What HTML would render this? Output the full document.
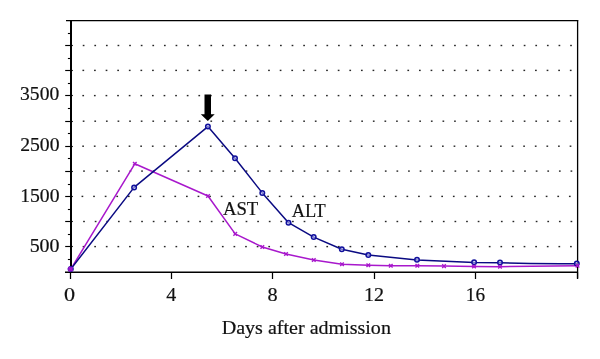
<!DOCTYPE html>
<html><head><meta charset="utf-8"><style>
html,body{margin:0;padding:0;background:#fff;}
svg{display:block;will-change:transform;}
</style></head><body>
<svg width="600" height="359" viewBox="0 0 600 359">
<g fill="#262626"><rect x="82.65" y="245.90" width="1.7" height="1.4"/><rect x="94.26" y="245.90" width="1.7" height="1.4"/><rect x="105.86" y="245.90" width="1.7" height="1.4"/><rect x="117.47" y="245.90" width="1.7" height="1.4"/><rect x="129.07" y="245.90" width="1.7" height="1.4"/><rect x="140.68" y="245.90" width="1.7" height="1.4"/><rect x="152.28" y="245.90" width="1.7" height="1.4"/><rect x="163.89" y="245.90" width="1.7" height="1.4"/><rect x="175.49" y="245.90" width="1.7" height="1.4"/><rect x="187.09" y="245.90" width="1.7" height="1.4"/><rect x="198.70" y="245.90" width="1.7" height="1.4"/><rect x="210.31" y="245.90" width="1.7" height="1.4"/><rect x="221.91" y="245.90" width="1.7" height="1.4"/><rect x="233.52" y="245.90" width="1.7" height="1.4"/><rect x="245.12" y="245.90" width="1.7" height="1.4"/><rect x="256.73" y="245.90" width="1.7" height="1.4"/><rect x="268.33" y="245.90" width="1.7" height="1.4"/><rect x="279.93" y="245.90" width="1.7" height="1.4"/><rect x="291.54" y="245.90" width="1.7" height="1.4"/><rect x="303.14" y="245.90" width="1.7" height="1.4"/><rect x="314.75" y="245.90" width="1.7" height="1.4"/><rect x="326.36" y="245.90" width="1.7" height="1.4"/><rect x="337.96" y="245.90" width="1.7" height="1.4"/><rect x="349.56" y="245.90" width="1.7" height="1.4"/><rect x="361.17" y="245.90" width="1.7" height="1.4"/><rect x="372.77" y="245.90" width="1.7" height="1.4"/><rect x="384.38" y="245.90" width="1.7" height="1.4"/><rect x="395.99" y="245.90" width="1.7" height="1.4"/><rect x="407.59" y="245.90" width="1.7" height="1.4"/><rect x="419.19" y="245.90" width="1.7" height="1.4"/><rect x="430.80" y="245.90" width="1.7" height="1.4"/><rect x="442.40" y="245.90" width="1.7" height="1.4"/><rect x="454.01" y="245.90" width="1.7" height="1.4"/><rect x="465.62" y="245.90" width="1.7" height="1.4"/><rect x="477.22" y="245.90" width="1.7" height="1.4"/><rect x="488.82" y="245.90" width="1.7" height="1.4"/><rect x="500.43" y="245.90" width="1.7" height="1.4"/><rect x="512.03" y="245.90" width="1.7" height="1.4"/><rect x="523.64" y="245.90" width="1.7" height="1.4"/><rect x="535.25" y="245.90" width="1.7" height="1.4"/><rect x="546.85" y="245.90" width="1.7" height="1.4"/><rect x="558.46" y="245.90" width="1.7" height="1.4"/><rect x="570.06" y="245.90" width="1.7" height="1.4"/><rect x="83.15" y="220.80" width="1.7" height="1.4"/><rect x="94.76" y="220.80" width="1.7" height="1.4"/><rect x="106.36" y="220.80" width="1.7" height="1.4"/><rect x="117.97" y="220.80" width="1.7" height="1.4"/><rect x="129.57" y="220.80" width="1.7" height="1.4"/><rect x="141.18" y="220.80" width="1.7" height="1.4"/><rect x="152.78" y="220.80" width="1.7" height="1.4"/><rect x="164.39" y="220.80" width="1.7" height="1.4"/><rect x="175.99" y="220.80" width="1.7" height="1.4"/><rect x="187.59" y="220.80" width="1.7" height="1.4"/><rect x="199.20" y="220.80" width="1.7" height="1.4"/><rect x="210.81" y="220.80" width="1.7" height="1.4"/><rect x="222.41" y="220.80" width="1.7" height="1.4"/><rect x="234.02" y="220.80" width="1.7" height="1.4"/><rect x="245.62" y="220.80" width="1.7" height="1.4"/><rect x="257.23" y="220.80" width="1.7" height="1.4"/><rect x="268.83" y="220.80" width="1.7" height="1.4"/><rect x="280.43" y="220.80" width="1.7" height="1.4"/><rect x="292.04" y="220.80" width="1.7" height="1.4"/><rect x="303.64" y="220.80" width="1.7" height="1.4"/><rect x="315.25" y="220.80" width="1.7" height="1.4"/><rect x="326.86" y="220.80" width="1.7" height="1.4"/><rect x="338.46" y="220.80" width="1.7" height="1.4"/><rect x="350.06" y="220.80" width="1.7" height="1.4"/><rect x="361.67" y="220.80" width="1.7" height="1.4"/><rect x="373.27" y="220.80" width="1.7" height="1.4"/><rect x="384.88" y="220.80" width="1.7" height="1.4"/><rect x="396.49" y="220.80" width="1.7" height="1.4"/><rect x="408.09" y="220.80" width="1.7" height="1.4"/><rect x="419.69" y="220.80" width="1.7" height="1.4"/><rect x="431.30" y="220.80" width="1.7" height="1.4"/><rect x="442.90" y="220.80" width="1.7" height="1.4"/><rect x="454.51" y="220.80" width="1.7" height="1.4"/><rect x="466.12" y="220.80" width="1.7" height="1.4"/><rect x="477.72" y="220.80" width="1.7" height="1.4"/><rect x="489.32" y="220.80" width="1.7" height="1.4"/><rect x="500.93" y="220.80" width="1.7" height="1.4"/><rect x="512.53" y="220.80" width="1.7" height="1.4"/><rect x="524.14" y="220.80" width="1.7" height="1.4"/><rect x="535.75" y="220.80" width="1.7" height="1.4"/><rect x="547.35" y="220.80" width="1.7" height="1.4"/><rect x="558.96" y="220.80" width="1.7" height="1.4"/><rect x="570.56" y="220.80" width="1.7" height="1.4"/><rect x="81.55" y="195.70" width="1.7" height="1.4"/><rect x="93.16" y="195.70" width="1.7" height="1.4"/><rect x="104.76" y="195.70" width="1.7" height="1.4"/><rect x="116.36" y="195.70" width="1.7" height="1.4"/><rect x="127.97" y="195.70" width="1.7" height="1.4"/><rect x="139.58" y="195.70" width="1.7" height="1.4"/><rect x="151.18" y="195.70" width="1.7" height="1.4"/><rect x="162.78" y="195.70" width="1.7" height="1.4"/><rect x="174.39" y="195.70" width="1.7" height="1.4"/><rect x="186.00" y="195.70" width="1.7" height="1.4"/><rect x="197.60" y="195.70" width="1.7" height="1.4"/><rect x="209.21" y="195.70" width="1.7" height="1.4"/><rect x="220.81" y="195.70" width="1.7" height="1.4"/><rect x="232.41" y="195.70" width="1.7" height="1.4"/><rect x="244.02" y="195.70" width="1.7" height="1.4"/><rect x="255.63" y="195.70" width="1.7" height="1.4"/><rect x="267.23" y="195.70" width="1.7" height="1.4"/><rect x="278.83" y="195.70" width="1.7" height="1.4"/><rect x="290.44" y="195.70" width="1.7" height="1.4"/><rect x="302.04" y="195.70" width="1.7" height="1.4"/><rect x="313.65" y="195.70" width="1.7" height="1.4"/><rect x="325.25" y="195.70" width="1.7" height="1.4"/><rect x="336.86" y="195.70" width="1.7" height="1.4"/><rect x="348.46" y="195.70" width="1.7" height="1.4"/><rect x="360.07" y="195.70" width="1.7" height="1.4"/><rect x="371.67" y="195.70" width="1.7" height="1.4"/><rect x="383.28" y="195.70" width="1.7" height="1.4"/><rect x="394.88" y="195.70" width="1.7" height="1.4"/><rect x="406.49" y="195.70" width="1.7" height="1.4"/><rect x="418.09" y="195.70" width="1.7" height="1.4"/><rect x="429.70" y="195.70" width="1.7" height="1.4"/><rect x="441.30" y="195.70" width="1.7" height="1.4"/><rect x="452.91" y="195.70" width="1.7" height="1.4"/><rect x="464.51" y="195.70" width="1.7" height="1.4"/><rect x="476.12" y="195.70" width="1.7" height="1.4"/><rect x="487.72" y="195.70" width="1.7" height="1.4"/><rect x="499.33" y="195.70" width="1.7" height="1.4"/><rect x="510.93" y="195.70" width="1.7" height="1.4"/><rect x="522.54" y="195.70" width="1.7" height="1.4"/><rect x="534.14" y="195.70" width="1.7" height="1.4"/><rect x="545.75" y="195.70" width="1.7" height="1.4"/><rect x="557.36" y="195.70" width="1.7" height="1.4"/><rect x="568.96" y="195.70" width="1.7" height="1.4"/><rect x="83.15" y="170.40" width="1.7" height="1.4"/><rect x="94.76" y="170.40" width="1.7" height="1.4"/><rect x="106.36" y="170.40" width="1.7" height="1.4"/><rect x="117.97" y="170.40" width="1.7" height="1.4"/><rect x="129.57" y="170.40" width="1.7" height="1.4"/><rect x="141.18" y="170.40" width="1.7" height="1.4"/><rect x="152.78" y="170.40" width="1.7" height="1.4"/><rect x="164.39" y="170.40" width="1.7" height="1.4"/><rect x="175.99" y="170.40" width="1.7" height="1.4"/><rect x="187.59" y="170.40" width="1.7" height="1.4"/><rect x="199.20" y="170.40" width="1.7" height="1.4"/><rect x="210.81" y="170.40" width="1.7" height="1.4"/><rect x="222.41" y="170.40" width="1.7" height="1.4"/><rect x="234.02" y="170.40" width="1.7" height="1.4"/><rect x="245.62" y="170.40" width="1.7" height="1.4"/><rect x="257.23" y="170.40" width="1.7" height="1.4"/><rect x="268.83" y="170.40" width="1.7" height="1.4"/><rect x="280.43" y="170.40" width="1.7" height="1.4"/><rect x="292.04" y="170.40" width="1.7" height="1.4"/><rect x="303.64" y="170.40" width="1.7" height="1.4"/><rect x="315.25" y="170.40" width="1.7" height="1.4"/><rect x="326.86" y="170.40" width="1.7" height="1.4"/><rect x="338.46" y="170.40" width="1.7" height="1.4"/><rect x="350.06" y="170.40" width="1.7" height="1.4"/><rect x="361.67" y="170.40" width="1.7" height="1.4"/><rect x="373.27" y="170.40" width="1.7" height="1.4"/><rect x="384.88" y="170.40" width="1.7" height="1.4"/><rect x="396.49" y="170.40" width="1.7" height="1.4"/><rect x="408.09" y="170.40" width="1.7" height="1.4"/><rect x="419.69" y="170.40" width="1.7" height="1.4"/><rect x="431.30" y="170.40" width="1.7" height="1.4"/><rect x="442.90" y="170.40" width="1.7" height="1.4"/><rect x="454.51" y="170.40" width="1.7" height="1.4"/><rect x="466.12" y="170.40" width="1.7" height="1.4"/><rect x="477.72" y="170.40" width="1.7" height="1.4"/><rect x="489.32" y="170.40" width="1.7" height="1.4"/><rect x="500.93" y="170.40" width="1.7" height="1.4"/><rect x="512.53" y="170.40" width="1.7" height="1.4"/><rect x="524.14" y="170.40" width="1.7" height="1.4"/><rect x="535.75" y="170.40" width="1.7" height="1.4"/><rect x="547.35" y="170.40" width="1.7" height="1.4"/><rect x="558.96" y="170.40" width="1.7" height="1.4"/><rect x="570.56" y="170.40" width="1.7" height="1.4"/><rect x="82.25" y="145.50" width="1.7" height="1.4"/><rect x="93.86" y="145.50" width="1.7" height="1.4"/><rect x="105.46" y="145.50" width="1.7" height="1.4"/><rect x="117.06" y="145.50" width="1.7" height="1.4"/><rect x="128.67" y="145.50" width="1.7" height="1.4"/><rect x="140.28" y="145.50" width="1.7" height="1.4"/><rect x="151.88" y="145.50" width="1.7" height="1.4"/><rect x="163.48" y="145.50" width="1.7" height="1.4"/><rect x="175.09" y="145.50" width="1.7" height="1.4"/><rect x="186.70" y="145.50" width="1.7" height="1.4"/><rect x="198.30" y="145.50" width="1.7" height="1.4"/><rect x="209.91" y="145.50" width="1.7" height="1.4"/><rect x="221.51" y="145.50" width="1.7" height="1.4"/><rect x="233.12" y="145.50" width="1.7" height="1.4"/><rect x="244.72" y="145.50" width="1.7" height="1.4"/><rect x="256.32" y="145.50" width="1.7" height="1.4"/><rect x="267.93" y="145.50" width="1.7" height="1.4"/><rect x="279.53" y="145.50" width="1.7" height="1.4"/><rect x="291.14" y="145.50" width="1.7" height="1.4"/><rect x="302.75" y="145.50" width="1.7" height="1.4"/><rect x="314.35" y="145.50" width="1.7" height="1.4"/><rect x="325.95" y="145.50" width="1.7" height="1.4"/><rect x="337.56" y="145.50" width="1.7" height="1.4"/><rect x="349.16" y="145.50" width="1.7" height="1.4"/><rect x="360.77" y="145.50" width="1.7" height="1.4"/><rect x="372.38" y="145.50" width="1.7" height="1.4"/><rect x="383.98" y="145.50" width="1.7" height="1.4"/><rect x="395.59" y="145.50" width="1.7" height="1.4"/><rect x="407.19" y="145.50" width="1.7" height="1.4"/><rect x="418.79" y="145.50" width="1.7" height="1.4"/><rect x="430.40" y="145.50" width="1.7" height="1.4"/><rect x="442.00" y="145.50" width="1.7" height="1.4"/><rect x="453.61" y="145.50" width="1.7" height="1.4"/><rect x="465.22" y="145.50" width="1.7" height="1.4"/><rect x="476.82" y="145.50" width="1.7" height="1.4"/><rect x="488.42" y="145.50" width="1.7" height="1.4"/><rect x="500.03" y="145.50" width="1.7" height="1.4"/><rect x="511.63" y="145.50" width="1.7" height="1.4"/><rect x="523.24" y="145.50" width="1.7" height="1.4"/><rect x="534.85" y="145.50" width="1.7" height="1.4"/><rect x="546.45" y="145.50" width="1.7" height="1.4"/><rect x="558.05" y="145.50" width="1.7" height="1.4"/><rect x="569.66" y="145.50" width="1.7" height="1.4"/><rect x="82.75" y="120.50" width="1.7" height="1.4"/><rect x="94.36" y="120.50" width="1.7" height="1.4"/><rect x="105.96" y="120.50" width="1.7" height="1.4"/><rect x="117.56" y="120.50" width="1.7" height="1.4"/><rect x="129.17" y="120.50" width="1.7" height="1.4"/><rect x="140.78" y="120.50" width="1.7" height="1.4"/><rect x="152.38" y="120.50" width="1.7" height="1.4"/><rect x="163.98" y="120.50" width="1.7" height="1.4"/><rect x="175.59" y="120.50" width="1.7" height="1.4"/><rect x="187.20" y="120.50" width="1.7" height="1.4"/><rect x="198.80" y="120.50" width="1.7" height="1.4"/><rect x="210.41" y="120.50" width="1.7" height="1.4"/><rect x="222.01" y="120.50" width="1.7" height="1.4"/><rect x="233.62" y="120.50" width="1.7" height="1.4"/><rect x="245.22" y="120.50" width="1.7" height="1.4"/><rect x="256.82" y="120.50" width="1.7" height="1.4"/><rect x="268.43" y="120.50" width="1.7" height="1.4"/><rect x="280.03" y="120.50" width="1.7" height="1.4"/><rect x="291.64" y="120.50" width="1.7" height="1.4"/><rect x="303.25" y="120.50" width="1.7" height="1.4"/><rect x="314.85" y="120.50" width="1.7" height="1.4"/><rect x="326.45" y="120.50" width="1.7" height="1.4"/><rect x="338.06" y="120.50" width="1.7" height="1.4"/><rect x="349.66" y="120.50" width="1.7" height="1.4"/><rect x="361.27" y="120.50" width="1.7" height="1.4"/><rect x="372.88" y="120.50" width="1.7" height="1.4"/><rect x="384.48" y="120.50" width="1.7" height="1.4"/><rect x="396.09" y="120.50" width="1.7" height="1.4"/><rect x="407.69" y="120.50" width="1.7" height="1.4"/><rect x="419.29" y="120.50" width="1.7" height="1.4"/><rect x="430.90" y="120.50" width="1.7" height="1.4"/><rect x="442.50" y="120.50" width="1.7" height="1.4"/><rect x="454.11" y="120.50" width="1.7" height="1.4"/><rect x="465.72" y="120.50" width="1.7" height="1.4"/><rect x="477.32" y="120.50" width="1.7" height="1.4"/><rect x="488.92" y="120.50" width="1.7" height="1.4"/><rect x="500.53" y="120.50" width="1.7" height="1.4"/><rect x="512.13" y="120.50" width="1.7" height="1.4"/><rect x="523.74" y="120.50" width="1.7" height="1.4"/><rect x="535.35" y="120.50" width="1.7" height="1.4"/><rect x="546.95" y="120.50" width="1.7" height="1.4"/><rect x="558.55" y="120.50" width="1.7" height="1.4"/><rect x="570.16" y="120.50" width="1.7" height="1.4"/><rect x="82.35" y="94.90" width="1.7" height="1.4"/><rect x="93.95" y="94.90" width="1.7" height="1.4"/><rect x="105.56" y="94.90" width="1.7" height="1.4"/><rect x="117.16" y="94.90" width="1.7" height="1.4"/><rect x="128.77" y="94.90" width="1.7" height="1.4"/><rect x="140.38" y="94.90" width="1.7" height="1.4"/><rect x="151.98" y="94.90" width="1.7" height="1.4"/><rect x="163.59" y="94.90" width="1.7" height="1.4"/><rect x="175.19" y="94.90" width="1.7" height="1.4"/><rect x="186.79" y="94.90" width="1.7" height="1.4"/><rect x="198.40" y="94.90" width="1.7" height="1.4"/><rect x="210.00" y="94.90" width="1.7" height="1.4"/><rect x="221.61" y="94.90" width="1.7" height="1.4"/><rect x="233.22" y="94.90" width="1.7" height="1.4"/><rect x="244.82" y="94.90" width="1.7" height="1.4"/><rect x="256.42" y="94.90" width="1.7" height="1.4"/><rect x="268.03" y="94.90" width="1.7" height="1.4"/><rect x="279.63" y="94.90" width="1.7" height="1.4"/><rect x="291.24" y="94.90" width="1.7" height="1.4"/><rect x="302.84" y="94.90" width="1.7" height="1.4"/><rect x="314.45" y="94.90" width="1.7" height="1.4"/><rect x="326.05" y="94.90" width="1.7" height="1.4"/><rect x="337.66" y="94.90" width="1.7" height="1.4"/><rect x="349.26" y="94.90" width="1.7" height="1.4"/><rect x="360.87" y="94.90" width="1.7" height="1.4"/><rect x="372.47" y="94.90" width="1.7" height="1.4"/><rect x="384.08" y="94.90" width="1.7" height="1.4"/><rect x="395.69" y="94.90" width="1.7" height="1.4"/><rect x="407.29" y="94.90" width="1.7" height="1.4"/><rect x="418.89" y="94.90" width="1.7" height="1.4"/><rect x="430.50" y="94.90" width="1.7" height="1.4"/><rect x="442.10" y="94.90" width="1.7" height="1.4"/><rect x="453.71" y="94.90" width="1.7" height="1.4"/><rect x="465.31" y="94.90" width="1.7" height="1.4"/><rect x="476.92" y="94.90" width="1.7" height="1.4"/><rect x="488.52" y="94.90" width="1.7" height="1.4"/><rect x="500.13" y="94.90" width="1.7" height="1.4"/><rect x="511.74" y="94.90" width="1.7" height="1.4"/><rect x="523.34" y="94.90" width="1.7" height="1.4"/><rect x="534.95" y="94.90" width="1.7" height="1.4"/><rect x="546.55" y="94.90" width="1.7" height="1.4"/><rect x="558.15" y="94.90" width="1.7" height="1.4"/><rect x="569.76" y="94.90" width="1.7" height="1.4"/><rect x="82.45" y="69.70" width="1.7" height="1.4"/><rect x="94.06" y="69.70" width="1.7" height="1.4"/><rect x="105.66" y="69.70" width="1.7" height="1.4"/><rect x="117.27" y="69.70" width="1.7" height="1.4"/><rect x="128.87" y="69.70" width="1.7" height="1.4"/><rect x="140.47" y="69.70" width="1.7" height="1.4"/><rect x="152.08" y="69.70" width="1.7" height="1.4"/><rect x="163.69" y="69.70" width="1.7" height="1.4"/><rect x="175.29" y="69.70" width="1.7" height="1.4"/><rect x="186.90" y="69.70" width="1.7" height="1.4"/><rect x="198.50" y="69.70" width="1.7" height="1.4"/><rect x="210.10" y="69.70" width="1.7" height="1.4"/><rect x="221.71" y="69.70" width="1.7" height="1.4"/><rect x="233.32" y="69.70" width="1.7" height="1.4"/><rect x="244.92" y="69.70" width="1.7" height="1.4"/><rect x="256.52" y="69.70" width="1.7" height="1.4"/><rect x="268.13" y="69.70" width="1.7" height="1.4"/><rect x="279.73" y="69.70" width="1.7" height="1.4"/><rect x="291.34" y="69.70" width="1.7" height="1.4"/><rect x="302.94" y="69.70" width="1.7" height="1.4"/><rect x="314.55" y="69.70" width="1.7" height="1.4"/><rect x="326.15" y="69.70" width="1.7" height="1.4"/><rect x="337.76" y="69.70" width="1.7" height="1.4"/><rect x="349.37" y="69.70" width="1.7" height="1.4"/><rect x="360.97" y="69.70" width="1.7" height="1.4"/><rect x="372.57" y="69.70" width="1.7" height="1.4"/><rect x="384.18" y="69.70" width="1.7" height="1.4"/><rect x="395.79" y="69.70" width="1.7" height="1.4"/><rect x="407.39" y="69.70" width="1.7" height="1.4"/><rect x="419.00" y="69.70" width="1.7" height="1.4"/><rect x="430.60" y="69.70" width="1.7" height="1.4"/><rect x="442.20" y="69.70" width="1.7" height="1.4"/><rect x="453.81" y="69.70" width="1.7" height="1.4"/><rect x="465.42" y="69.70" width="1.7" height="1.4"/><rect x="477.02" y="69.70" width="1.7" height="1.4"/><rect x="488.62" y="69.70" width="1.7" height="1.4"/><rect x="500.23" y="69.70" width="1.7" height="1.4"/><rect x="511.83" y="69.70" width="1.7" height="1.4"/><rect x="523.44" y="69.70" width="1.7" height="1.4"/><rect x="535.04" y="69.70" width="1.7" height="1.4"/><rect x="546.65" y="69.70" width="1.7" height="1.4"/><rect x="558.25" y="69.70" width="1.7" height="1.4"/><rect x="569.86" y="69.70" width="1.7" height="1.4"/><rect x="82.75" y="44.80" width="1.7" height="1.4"/><rect x="94.36" y="44.80" width="1.7" height="1.4"/><rect x="105.96" y="44.80" width="1.7" height="1.4"/><rect x="117.56" y="44.80" width="1.7" height="1.4"/><rect x="129.17" y="44.80" width="1.7" height="1.4"/><rect x="140.78" y="44.80" width="1.7" height="1.4"/><rect x="152.38" y="44.80" width="1.7" height="1.4"/><rect x="163.98" y="44.80" width="1.7" height="1.4"/><rect x="175.59" y="44.80" width="1.7" height="1.4"/><rect x="187.20" y="44.80" width="1.7" height="1.4"/><rect x="198.80" y="44.80" width="1.7" height="1.4"/><rect x="210.41" y="44.80" width="1.7" height="1.4"/><rect x="222.01" y="44.80" width="1.7" height="1.4"/><rect x="233.62" y="44.80" width="1.7" height="1.4"/><rect x="245.22" y="44.80" width="1.7" height="1.4"/><rect x="256.82" y="44.80" width="1.7" height="1.4"/><rect x="268.43" y="44.80" width="1.7" height="1.4"/><rect x="280.03" y="44.80" width="1.7" height="1.4"/><rect x="291.64" y="44.80" width="1.7" height="1.4"/><rect x="303.25" y="44.80" width="1.7" height="1.4"/><rect x="314.85" y="44.80" width="1.7" height="1.4"/><rect x="326.45" y="44.80" width="1.7" height="1.4"/><rect x="338.06" y="44.80" width="1.7" height="1.4"/><rect x="349.66" y="44.80" width="1.7" height="1.4"/><rect x="361.27" y="44.80" width="1.7" height="1.4"/><rect x="372.88" y="44.80" width="1.7" height="1.4"/><rect x="384.48" y="44.80" width="1.7" height="1.4"/><rect x="396.09" y="44.80" width="1.7" height="1.4"/><rect x="407.69" y="44.80" width="1.7" height="1.4"/><rect x="419.29" y="44.80" width="1.7" height="1.4"/><rect x="430.90" y="44.80" width="1.7" height="1.4"/><rect x="442.50" y="44.80" width="1.7" height="1.4"/><rect x="454.11" y="44.80" width="1.7" height="1.4"/><rect x="465.72" y="44.80" width="1.7" height="1.4"/><rect x="477.32" y="44.80" width="1.7" height="1.4"/><rect x="488.92" y="44.80" width="1.7" height="1.4"/><rect x="500.53" y="44.80" width="1.7" height="1.4"/><rect x="512.13" y="44.80" width="1.7" height="1.4"/><rect x="523.74" y="44.80" width="1.7" height="1.4"/><rect x="535.35" y="44.80" width="1.7" height="1.4"/><rect x="546.95" y="44.80" width="1.7" height="1.4"/><rect x="558.55" y="44.80" width="1.7" height="1.4"/><rect x="570.16" y="44.80" width="1.7" height="1.4"/></g>
<line x1="66" y1="20.6" x2="578.2" y2="20.6" stroke="#000" stroke-width="1.2"/>
<line x1="577.6" y1="20" x2="577.6" y2="278.5" stroke="#000" stroke-width="1.3"/>
<line x1="71" y1="20" x2="71" y2="272.5" stroke="#000" stroke-width="2"/>
<line x1="65" y1="272.25" x2="578" y2="272.25" stroke="#000" stroke-width="1.5"/>
<g stroke="#000" stroke-width="1.4"><line x1="67.9" y1="259.50" x2="71" y2="259.50" stroke-width="1.1"/><line x1="65.2" y1="246.50" x2="72.8" y2="246.50" stroke-width="1.15"/><line x1="67.9" y1="234.50" x2="71" y2="234.50" stroke-width="1.1"/><line x1="65.2" y1="221.50" x2="72.8" y2="221.50" stroke-width="1.15"/><line x1="67.9" y1="209.50" x2="71" y2="209.50" stroke-width="1.1"/><line x1="65.2" y1="196.50" x2="72.8" y2="196.50" stroke-width="1.15"/><line x1="67.9" y1="184.50" x2="71" y2="184.50" stroke-width="1.1"/><line x1="65.2" y1="171.50" x2="72.8" y2="171.50" stroke-width="1.15"/><line x1="67.9" y1="158.50" x2="71" y2="158.50" stroke-width="1.1"/><line x1="65.2" y1="146.50" x2="72.8" y2="146.50" stroke-width="1.15"/><line x1="67.9" y1="133.50" x2="71" y2="133.50" stroke-width="1.1"/><line x1="65.2" y1="121.50" x2="72.8" y2="121.50" stroke-width="1.15"/><line x1="67.9" y1="108.50" x2="71" y2="108.50" stroke-width="1.1"/><line x1="65.2" y1="95.50" x2="72.8" y2="95.50" stroke-width="1.15"/><line x1="67.9" y1="83.50" x2="71" y2="83.50" stroke-width="1.1"/><line x1="65.2" y1="70.50" x2="72.8" y2="70.50" stroke-width="1.15"/><line x1="67.9" y1="58.50" x2="71" y2="58.50" stroke-width="1.1"/><line x1="65.2" y1="45.50" x2="72.8" y2="45.50" stroke-width="1.15"/><line x1="67.9" y1="33.50" x2="71" y2="33.50" stroke-width="1.1"/><line x1="70.50" y1="272" x2="70.50" y2="279" stroke-width="1.25"/><line x1="171.50" y1="272" x2="171.50" y2="279" stroke-width="1.25"/><line x1="272.50" y1="272" x2="272.50" y2="279" stroke-width="1.25"/><line x1="374.50" y1="272" x2="374.50" y2="279" stroke-width="1.25"/><line x1="475.50" y1="272" x2="475.50" y2="279" stroke-width="1.25"/><line x1="577.50" y1="272" x2="577.50" y2="279" stroke-width="1.25"/></g>
<g font-family="Liberation Serif" font-size="19.5" fill="#111" stroke="#111" stroke-width="0.2"><text transform="translate(20.06,100.30) scale(1.0047,1)">3500</text><text transform="translate(20.13,150.80) scale(1.0107,1)">2500</text><text transform="translate(20.17,201.80) scale(1.0098,1)">1500</text><text transform="translate(29.64,252.40) scale(1.0229,1)">500</text><text transform="translate(64.06,300.60) scale(1.1374,1)">0</text><text transform="translate(166.31,300.80) scale(1.0260,1)">4</text><text transform="translate(267.43,300.80) scale(1.0406,1)">8</text><text transform="translate(364.04,300.60) scale(1.0293,1)">12</text><text transform="translate(465.81,300.60) scale(0.9881,1)">16</text><text transform="translate(222.92,214.80) scale(0.9608,1)">AST</text><text transform="translate(291.82,216.60) scale(0.9414,1)">ALT</text><text transform="translate(221.72,333.70) scale(1.0283,1)">Days after admission</text></g>
<polyline points="70.8,269.1 134.8,163.8 208,196 235.2,233.9 262.3,247.0 286,254 313.8,260.0 342,264.2 368.3,265.2 390.8,265.8 417.3,265.8 444,266.1 474,266.5 500,266.7 577.5,265.8" fill="none" stroke="#a818cc" stroke-width="1.5" stroke-linejoin="round"/>
<polyline points="70.8,269.1 134.1,187.4 207.9,126.6 235.0,158.2 262.3,192.9 288.5,222.7 313.7,237.1 341.8,249.3 368.3,255.0 417,260.1 474.1,262.5 500,262.7 530,263.4 560,263.8 576.8,263.7" fill="none" stroke="#0a0a82" stroke-width="1.5" stroke-linejoin="round"/>
<g stroke="#10109c" stroke-width="1.5" fill="#c4c4fa" fill-opacity="0.6"><circle cx="70.8" cy="269.1" r="2.25"/><circle cx="134.1" cy="187.4" r="2.25"/><circle cx="207.9" cy="126.6" r="2.25"/><circle cx="235.0" cy="158.2" r="2.25"/><circle cx="262.3" cy="192.9" r="2.25"/><circle cx="288.5" cy="222.7" r="2.25"/><circle cx="313.7" cy="237.1" r="2.25"/><circle cx="341.8" cy="249.3" r="2.25"/><circle cx="368.3" cy="255.0" r="2.25"/><circle cx="417" cy="259.8" r="2.25"/><circle cx="474.1" cy="262.3" r="2.25"/><circle cx="500" cy="262.4" r="2.25"/><circle cx="576.8" cy="263.4" r="2.25"/></g>
<circle cx="70.2" cy="269.1" r="2.6" fill="#7a16c8"/>
<g stroke="#a818cc" stroke-width="1.4"><path d="M69.00,267.30L72.60,270.90M69.00,270.90L72.60,267.30"/><path d="M133.00,162.00L136.60,165.60M133.00,165.60L136.60,162.00"/><path d="M206.20,194.20L209.80,197.80M206.20,197.80L209.80,194.20"/><path d="M233.40,232.10L237.00,235.70M233.40,235.70L237.00,232.10"/><path d="M260.50,245.20L264.10,248.80M260.50,248.80L264.10,245.20"/><path d="M284.20,252.20L287.80,255.80M284.20,255.80L287.80,252.20"/><path d="M312.00,258.20L315.60,261.80M312.00,261.80L315.60,258.20"/><path d="M340.20,262.40L343.80,266.00M340.20,266.00L343.80,262.40"/><path d="M366.50,263.40L370.10,267.00M366.50,267.00L370.10,263.40"/><path d="M389.00,264.00L392.60,267.60M389.00,267.60L392.60,264.00"/><path d="M415.50,264.00L419.10,267.60M415.50,267.60L419.10,264.00"/><path d="M442.20,264.30L445.80,267.90M442.20,267.90L445.80,264.30"/><path d="M472.20,264.70L475.80,268.30M472.20,268.30L475.80,264.70"/><path d="M498.20,264.90L501.80,268.50M498.20,268.50L501.80,264.90"/><path d="M575.70,264.00L579.30,267.60M575.70,267.60L579.30,264.00"/></g>
<path d="M204.5,94.4H211V114.2H214.7L207.8,121L200.8,114.2H204.5Z" fill="#000"/>
</svg>
</body></html>
